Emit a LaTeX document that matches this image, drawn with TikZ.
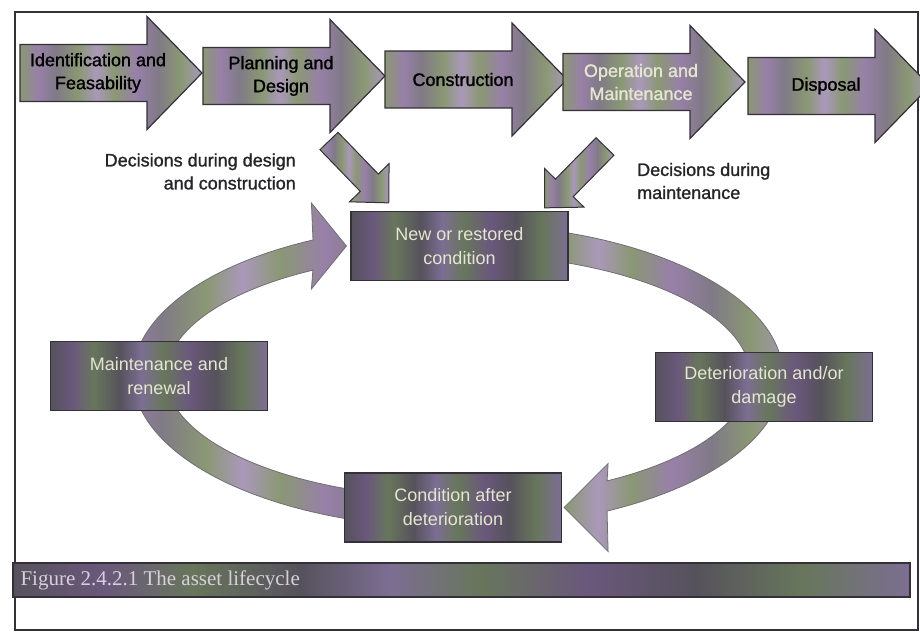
\documentclass[tikz,border=0pt]{standalone}
\usepackage{fontspec}
\setmainfont{Liberation Serif}
\setsansfont{Liberation Sans}[BoldFont=Liberation Sans, BoldFeatures={FakeBold=1.2}]
\usetikzlibrary{calc,backgrounds}

\definecolor{lcviolet}{RGB}{152,128,168}
\definecolor{lcgreen}{RGB}{138,152,116}
\definecolor{lcgrey}{RGB}{128,122,134}
\definecolor{lclilac}{RGB}{170,152,186}
\definecolor{dkviolet}{RGB}{106,88,124}
\definecolor{dkgreen}{RGB}{104,118,92}
\definecolor{dkgrey}{RGB}{86,82,92}
\definecolor{dklilac}{RGB}{124,110,146}
\definecolor{paletext}{RGB}{228,230,208}
\definecolor{notetext}{RGB}{38,36,40}
\definecolor{edge}{RGB}{52,48,56}

\pgfdeclarehorizontalshading{lightstripe}{100bp}{color(0bp)=(lcgreen); color(25bp)=(lcgreen);
  color(30bp)=(lcviolet); color(35bp)=(lcgrey); color(41bp)=(lcgreen); color(46bp)=(lclilac);
  color(51bp)=(lcgreen); color(57bp)=(lcviolet); color(63bp)=(lcgrey); color(69bp)=(lcgreen);
  color(75bp)=(lclilac); color(100bp)=(lclilac)}
\pgfdeclarehorizontalshading{darkstripe}{100bp}{color(0bp)=(dkgrey); color(25bp)=(dkgrey);
  color(30bp)=(dkviolet); color(35bp)=(dkgreen); color(41bp)=(dkgrey); color(46bp)=(dklilac);
  color(51bp)=(dkgreen); color(57bp)=(dkviolet); color(63bp)=(dkgrey); color(69bp)=(dkgreen);
  color(75bp)=(dklilac); color(100bp)=(dklilac)}

\tikzset{
	stage/.style={shade, shading=lightstripe, draw=edge, line width=1.2pt},
	stagetext/.style={font=\sffamily\bfseries\fontsize{18}{23}\selectfont, align=center, inner sep=0pt},
	decide/.style={shade, shading=lightstripe, draw=edge, line width=1pt},
	note/.style={font=\sffamily\bfseries\fontsize{18}{23}\selectfont, text=notetext, inner sep=0pt},
	statebox/.style={shade, shading=darkstripe, draw=edge, line width=1.2pt,
		minimum width=217pt, minimum height=69pt, align=center, text=paletext,
		font=\sffamily\fontsize{18}{24}\selectfont},
	loopband/.style={shade, shading=lightstripe, draw=edge!70, line width=0.8pt},
	capbar/.style={shade, shading=darkstripe, draw=edge, line width=1.4pt,
		minimum width=897pt, minimum height=34pt, inner sep=0pt},
}

\begin{document}
\begin{tikzpicture}[x=1pt, y=1pt]
	\useasboundingbox (0,0) rectangle (920,641);
	\draw[edge, line width=1.3pt] (15,11) rectangle (918,629);

	% life-cycle stages
	\foreach \x/\y/\n/\t/\c in {20/568/ident/{Identification and\\Feasability}/black,
		203/565/plan/{Planning and\\Design}/black,
		385/561.5/build/{Construction}/black,
		563/559/operate/{Operation and\\Maintenance}/paletext,
		748/555/dispose/{Disposal}/black}{
		\draw[stage] (\x,\y+28.5) -- (\x+127,\y+28.5) -- (\x+127,\y+56.5) -- (\x+182,\y)
			-- (\x+127,\y-56.5) -- (\x+127,\y-28.5) -- (\x,\y-28.5) -- cycle;
		\node[stagetext, text=\c] (\n) at (\x+78,\y) {\t};
	}

	\node[note, anchor=east, align=right] (designnote) at (296,469.5) {Decisions during design\\and construction};
	\node[note, anchor=west, align=left] (maintnote) at (637,460) {Decisions during\\maintenance};

	\draw[decide, shift={(329,500)}, rotate=-46] (0,12.5) -- (58,12.5) -- (58,27.5) -- (86,0)
		-- (58,-27.5) -- (58,-12.5) -- (0,-12.5) -- cycle;
	\draw[decide, shift={(605,494.5)}, rotate=-134.5] (0,12.5) -- (58,12.5) -- (58,27.5) -- (86,0)
		-- (58,-27.5) -- (58,-12.5) -- (0,-12.5) -- cycle;

	% condition loop
	\node[statebox] (newstate) at (459.5,395) {New or restored\\condition};
	\node[statebox] (renew) at (159,265) {Maintenance and\\renewal};
	\node[statebox] (decay) at (764,254) {Deterioration and/or\\damage};
	\node[statebox] (oldstate) at (453,133.5) {Condition after\\deterioration};

	\coordinate (ring) at (458,265);
	\coordinate (tipin) at ([xshift=-4pt]newstate.west);
	\coordinate (tipout) at ([xshift=2pt]oldstate.east);
	\begin{scope}[on background layer]
		\draw[loopband] ($(ring)+(116.5:325 and 152)$)
			arc[start angle=116.5, end angle=270, x radius=325, y radius=152]
			-- ($(ring)+(270:292 and 122)$)
			arc[start angle=270, end angle=119.8, x radius=292, y radius=122]
			-- ($(tipin)+(-35,-43)$) -- (tipin) -- ($(tipin)+(-35,43)$) -- cycle;
		\draw[loopband] ($(ring)+(90:325 and 152)$)
			arc[start angle=90, end angle=-62.7, x radius=325, y radius=152]
			-- ($(tipout)+(44,-44)$) -- (tipout) -- ($(tipout)+(44,44)$)
			-- ($(ring)+(-59.3:292 and 122)$)
			arc[start angle=-59.3, end angle=90, x radius=292, y radius=122] -- cycle;
	\end{scope}

	\node[capbar] (capstrip) at (461.5,61) {};
	\node[anchor=west, inner sep=0pt, text={rgb,255:red,216;green,206;blue,220},
		font=\rmfamily\fontsize{21}{25}\selectfont] (caption) at ([xshift=8pt]capstrip.west)
		{Figure 2.4.2.1 The asset lifecycle};
\end{tikzpicture}
\end{document}
